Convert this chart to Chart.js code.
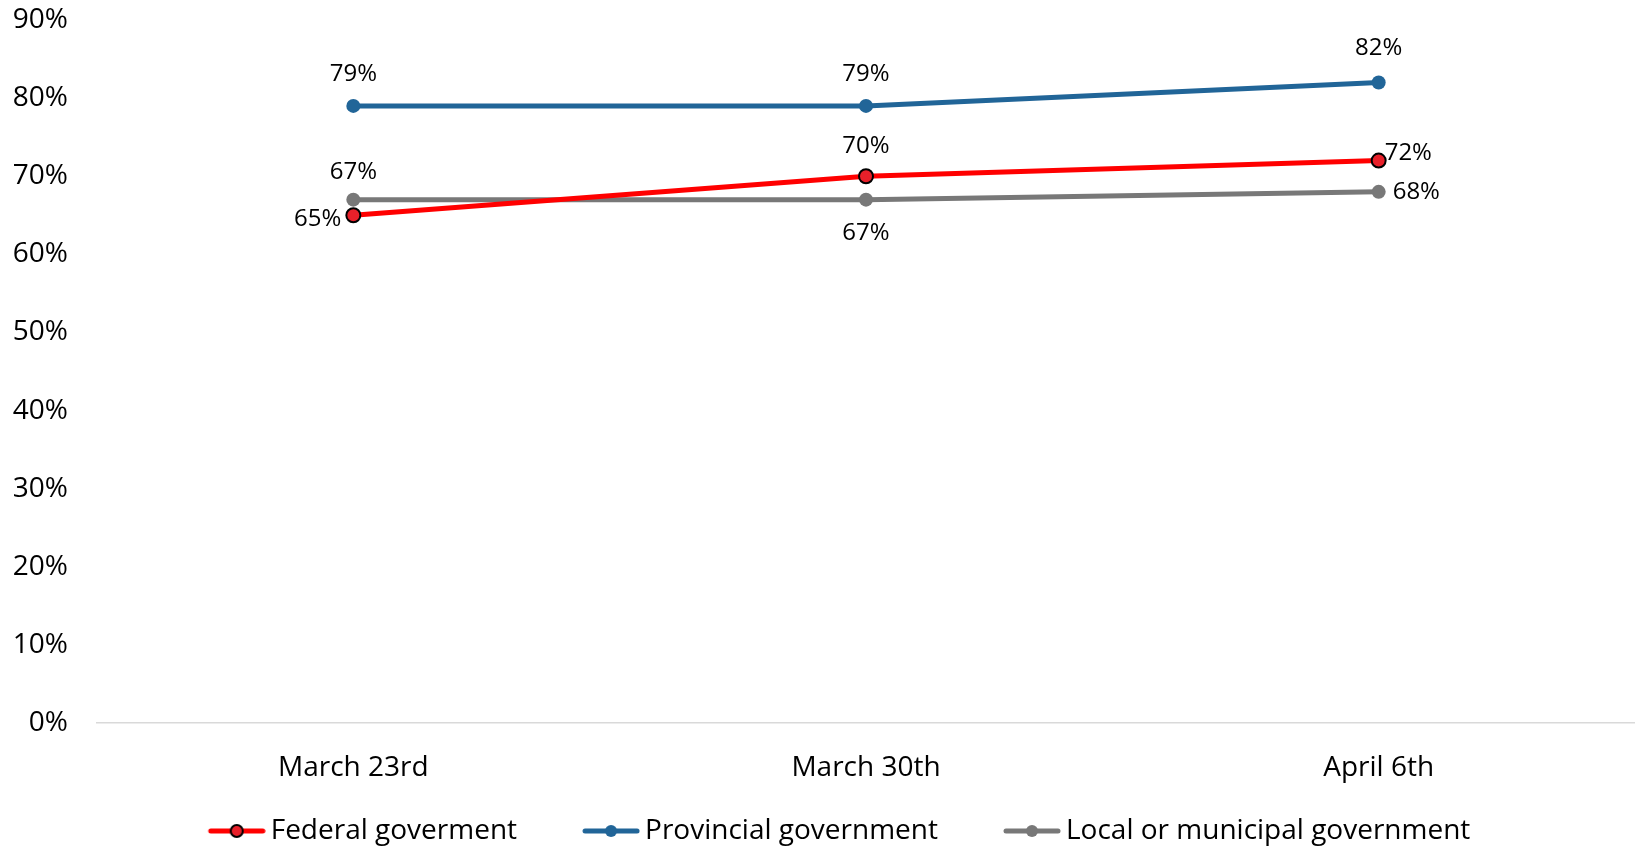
<!DOCTYPE html>
<html>
<head>
<meta charset="utf-8">
<script src="https://cdn.jsdelivr.net/npm/chart.js@4/dist/chart.umd.min.js"></script>
<style>
  html, body { margin: 0; padding: 0; background: #fff; }
  #wrap { width: 1635px; height: 846px; position: relative; }
</style>
</head>
<body>
<div id="wrap"><canvas id="chart"></canvas></div>
<script>
// data
const categories = ['March 23rd', 'March 30th', 'April 6th'];
const federal = [65, 70, 72];
const provincial = [79, 79, 82];
const local = [67, 67, 68];
const seriesNames = ['Federal goverment', 'Provincial government', 'Local or municipal government'];

// where each value label sits relative to its point
const labelPlace = [
  [['left', -12, 4], ['above', 0, -30], ['right', 6, -7]],
  [['above', 0, -32], ['above', 0, -32], ['above', 0, -34]],
  [['above', 0, -27], ['below', 0, 34], ['right', 14, 0]]
];

const RED = '#ff0000', BLUE = '#216598', GREY = '#787878';
const BOX_W = 104; // legend box width, includes the gap before the marker

// legend marker: short thick line with a dot on it, drawn at the right end of the image
function legendMarker(lineColor, dotColor, dotBorder) {
  const c = document.createElement('canvas');
  c.width = BOX_W + 18; c.height = 18;
  const g = c.getContext('2d');
  const x0 = c.width - 57, x1 = c.width - 1;
  g.strokeStyle = lineColor;
  g.lineWidth = 5;
  g.lineCap = 'round';
  g.beginPath(); g.moveTo(x0 + 2, 9); g.lineTo(x1 - 2, 9); g.stroke();
  g.beginPath(); g.arc((x0 + x1) / 2, 9, 6, 0, Math.PI * 2);
  g.fillStyle = dotColor; g.fill();
  if (dotBorder) { g.lineWidth = 2; g.strokeStyle = dotBorder; g.stroke(); }
  return c;
}
const markers = [
  legendMarker(RED, '#e8202a', '#000'),
  legendMarker(BLUE, BLUE),
  legendMarker(GREY, GREY)
];

const valueLabels = {
  id: 'valueLabels',
  afterDatasetsDraw(chart) {
    const ctx = chart.ctx;
    ctx.save();
    ctx.font = '24px "Open Sans"';
    ctx.fillStyle = '#000';
    chart.data.datasets.forEach((ds, di) => {
      const meta = chart.getDatasetMeta(di);
      meta.data.forEach((pt, i) => {
        const [where, dx, dy] = labelPlace[di][i];
        ctx.textAlign = where === 'left' ? 'right' : where === 'right' ? 'left' : 'center';
        ctx.textBaseline = 'middle';
        ctx.fillText(ds.data[i] + '%', pt.x + dx, pt.y + dy);
      });
    });
    ctx.restore();
  }
};

// nudge the legend to where the reference has it
const legendNudge = {
  id: 'legendNudge',
  afterLayout(chart) {
    const lg = chart.legend;
    lg.top += 9; lg.bottom += 9;
    lg.left -= 6; lg.right -= 6;
  }
};

const line = (label, data, color, pointFill, pointBorder) => ({
  label: label,
  data: data,
  borderColor: color,
  backgroundColor: color,
  borderWidth: 5,
  pointRadius: 7,
  pointHoverRadius: 7,
  pointBackgroundColor: pointFill,
  pointBorderColor: pointBorder,
  pointBorderWidth: pointBorder === pointFill ? 0 : 2,
  tension: 0
});

new Chart(document.getElementById('chart'), {
  type: 'line',
  data: {
    labels: categories,
    datasets: [
      line(seriesNames[0], federal, RED, '#e8202a', '#000'),
      line(seriesNames[1], provincial, BLUE, BLUE, BLUE),
      line(seriesNames[2], local, GREY, GREY, GREY)
    ]
  },
  options: {
    responsive: true,
    maintainAspectRatio: false,
    animation: false,
    layout: { autoPadding: false, padding: 0 },
    plugins: {
      tooltip: { enabled: false },
      legend: {
        position: 'bottom',
        labels: {
          usePointStyle: true,
          pointStyleWidth: BOX_W,
          padding: 10,
          color: '#000',
          font: { family: '"Open Sans"', size: 28 },
          generateLabels(chart) {
            return chart.data.datasets.map((ds, i) => ({
              text: ds.label,
              pointStyle: markers[i],
              fillStyle: ds.borderColor,
              strokeStyle: ds.borderColor,
              lineWidth: 0,
              hidden: false,
              datasetIndex: i,
              fontColor: '#000'
            }));
          }
        }
      }
    },
    scales: {
      x: {
        offset: true,
        grid: { display: false, drawTicks: false },
        border: { display: true, color: '#d9d9d9', width: 1.5 },
        ticks: { color: '#000', padding: 28, font: { family: '"Open Sans"', size: 28 } },
        afterFit(scale) { scale.height = 75; }
      },
      y: {
        min: 0,
        max: 90,
        grid: { display: false, drawTicks: false },
        border: { display: false },
        ticks: {
          stepSize: 10,
          color: '#000',
          padding: 29,
          font: { family: '"Open Sans"', size: 28 },
          callback: v => v + '%'
        },
        afterFit(scale) {
          scale.width = 97;
          scale.paddingTop = 20;
          scale.paddingBottom = 0;
        }
      }
    }
  },
  plugins: [valueLabels, legendNudge]
});
</script>
</body>
</html>
